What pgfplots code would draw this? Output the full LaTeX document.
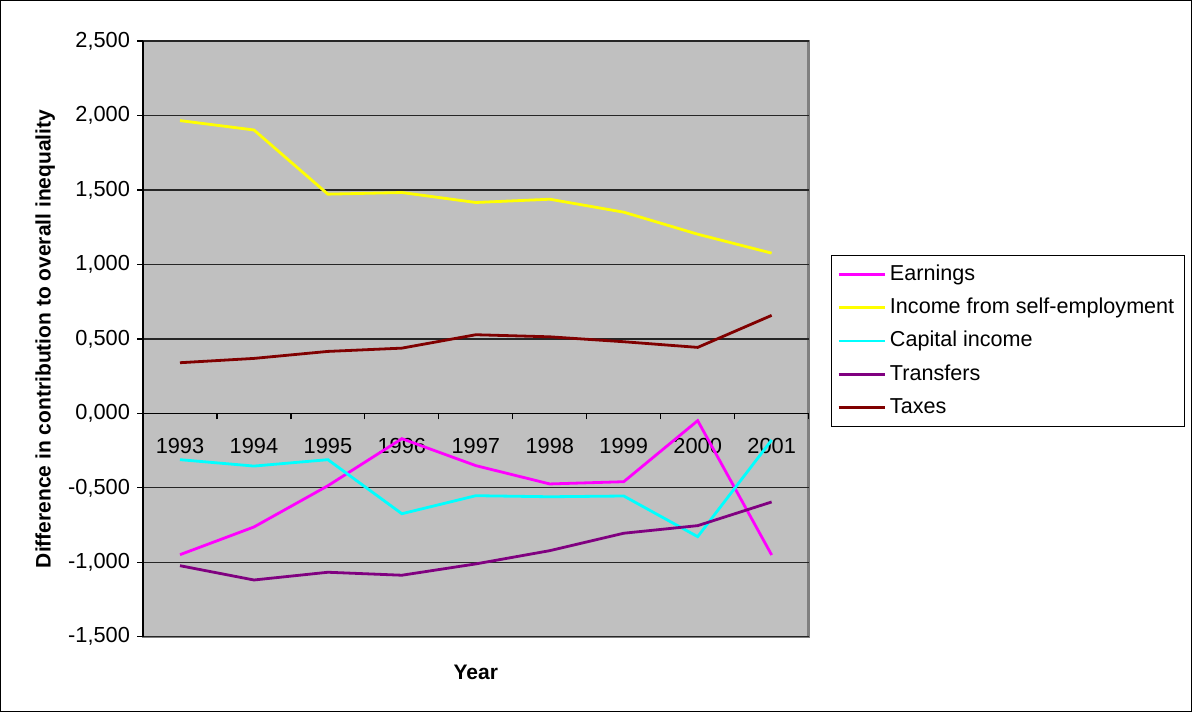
\documentclass[border=0pt]{standalone}
\usepackage{pgfplots}
\pgfplotsset{compat=1.18}
\usepackage{fontspec}
\setmainfont{Liberation Sans}

\definecolor{areagray}{RGB}{192,192,192}
\definecolor{framegray}{RGB}{128,128,128}
\definecolor{cEarn}{RGB}{255,0,255}
\definecolor{cSelf}{RGB}{255,255,0}
\definecolor{cCap}{RGB}{0,255,255}
\definecolor{cTrans}{RGB}{128,0,128}
\definecolor{cTax}{RGB}{128,0,0}

\pgfplotstableread{
idx earn self cap trans tax
0 -0.949 1.966 -0.311 -1.023 0.340
1 -0.763 1.903 -0.354 -1.119 0.369
2 -0.486 1.472 -0.311 -1.067 0.416
3 -0.170 1.483 -0.674 -1.087 0.438
4 -0.351 1.416 -0.553 -1.011 0.528
5 -0.474 1.438 -0.560 -0.922 0.514
6 -0.459 1.351 -0.555 -0.805 0.481
7 -0.049 1.203 -0.828 -0.754 0.443
8 -0.951 1.076 -0.179 -0.595 0.658
}\datatable

\begin{document}
\begin{tikzpicture}
% outer chart frame
\draw[black, line width=0.6pt] (-71.25pt,-37.25pt) rectangle (524.5pt,318.25pt);
\begin{axis}[
  at={(0pt,0pt)}, anchor=south west,
  scale only axis, width=333pt, height=298pt,
  xmin=-0.5, xmax=8.5, ymin=-1.5, ymax=2.5,
  axis x line=middle, axis y line=left,
  axis line style={-, black, line width=0.6pt},
  axis background/.style={fill=areagray, draw=framegray, line width=1.2pt},
  hide obscured x ticks=false, hide obscured y ticks=false,
  tick align=outside,
  major tick length=3pt, minor tick length=3pt,
  xtick={0,...,8},
  xticklabels={1993,1994,1995,1996,1997,1998,1999,2000,2001},
  every major x tick/.append style={draw=none},
  minor xtick={-0.5,0.5,...,8.5},
  every minor x tick/.append style={black, line width=0.6pt},
  ytick={-1.5,-1,...,2.5},
  every major y tick/.append style={black, line width=0.6pt},
  ymajorgrids,
  major grid style={black!85, line width=0.6pt},
  /pgf/number format/assume math mode=true,
  yticklabel style={/pgf/number format/.cd, fixed, fixed zerofill, precision=3, use comma},
  ticklabel style={font=\fontsize{10.9}{13}\selectfont},
  xticklabel style={yshift=-6pt},
  xlabel={Year},
  ylabel={Difference in contribution to overall inequality},
  label style={font=\fontsize{10.5}{12}\bfseries\selectfont},
  xlabel style={at={(axis description cs:0.5,-0.060)}, anchor=center},
  ylabel style={at={(axis description cs:-0.147,0.5)}, anchor=center, rotate=0},
  legend style={at={(axis description cs:1.033,0.641)}, anchor=north west,
    draw=black, line width=0.6pt, fill=white,
    font=\fontsize{10.8}{13}\selectfont,
    nodes={inner sep=2pt, text height=8.3pt, text depth=2.5pt},
    row sep=1.9pt, inner xsep=3pt, inner ysep=2pt},
  legend cell align=left,
  legend image code/.code={\draw[#1] (0pt,0pt) -- (23pt,0pt);},
  every axis plot/.append style={line width=1.4pt, mark=none},
]
\addplot[cEarn] table[x=idx, y=earn] {\datatable};
\addlegendentry{Earnings}
\addplot[cSelf] table[x=idx, y=self] {\datatable};
\addlegendentry{Income from self-employment}
\addplot[cCap] table[x=idx, y=cap] {\datatable};
\addlegendentry{Capital income}
\addplot[cTrans] table[x=idx, y=trans] {\datatable};
\addlegendentry{Transfers}
\addplot[cTax] table[x=idx, y=tax] {\datatable};
\addlegendentry{Taxes}
\end{axis}
\end{tikzpicture}
\end{document}
